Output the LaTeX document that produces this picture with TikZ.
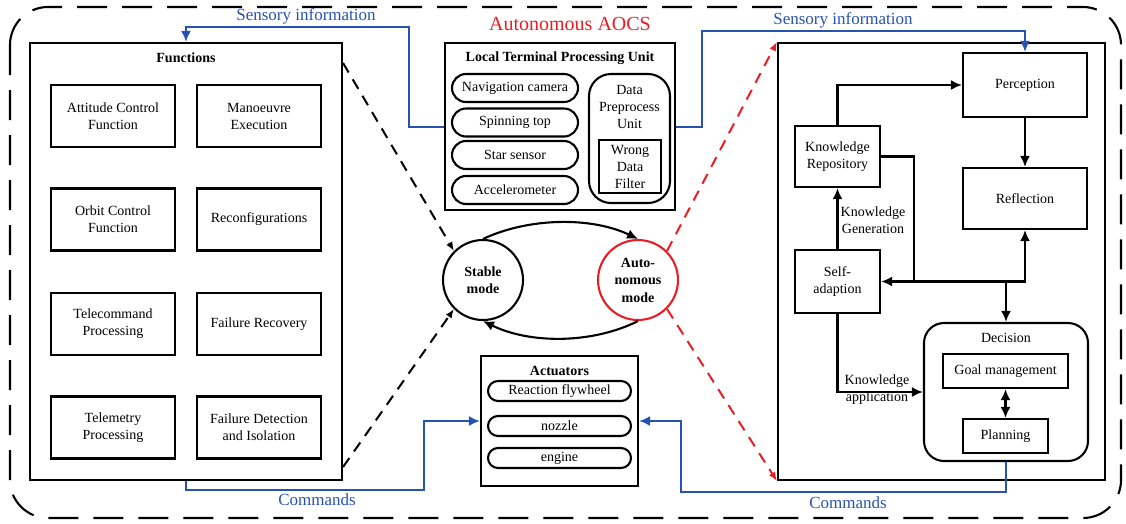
\documentclass[tikz,border=0pt]{standalone}
\usepackage{fontspec}
\setmainfont{Liberation Serif}
\usetikzlibrary{arrows.meta,calc}
\definecolor{sigblue}{RGB}{40,82,176}
\definecolor{autored}{RGB}{232,30,36}
\begin{document}
\begin{tikzpicture}[x=1pt,y=-1pt,
  every node/.style={inner sep=0pt, align=center},
  txt/.style={font=\fontsize{14}{17}\selectfont},
  frame/.style={draw, line width=2.1pt},
  fbox/.style={frame, txt, minimum width=124pt, minimum height=62pt},
  pill/.style={frame, txt, rounded corners=14pt, minimum width=126pt, minimum height=28pt},
  apill/.style={frame, txt, rounded corners=10pt, minimum width=143pt, minimum height=20pt},
  title/.style={font=\bfseries\fontsize{14}{17}\selectfont},
  arr/.style={line width=2.1pt, -{Latex[length=11pt,width=10pt]}},
  darr/.style={line width=2.1pt, {Latex[length=11pt,width=10pt]}-{Latex[length=11pt,width=10pt]}},
  dasharr/.style={line width=2pt, dash pattern=on 11pt off 8pt, -{Latex[length=9pt,width=7pt]}},
  sig/.style={draw=sigblue, line width=2pt},
  sigarr/.style={sig, -{Latex[length=11pt,width=10pt]}},
  lbl/.style={text=sigblue, font=\fontsize{17}{20}\selectfont},
  mode/.style={circle, draw, line width=2.1pt, minimum size=80pt, font=\bfseries\fontsize{14}{17}\selectfont},
]
\useasboundingbox (0,0) rectangle (1126,523);

% outer system boundary
\draw[line width=2.1pt, dash pattern=on 30pt off 15pt, rounded corners=38pt] (10,7) rectangle (1121,518);
\node[text=autored, font=\fontsize{20}{24}\selectfont] (aocs) at (570,24) {Autonomous AOCS};

% functions block
\node[frame, minimum width=312pt, minimum height=437pt] (functions) at (186,261.5) {};
\node[title] (functionsT) at (186,58) {Functions};
\node[fbox] (acf) at (113,116)   {Attitude Control\\Function};
\node[fbox] (me)  at (259,116)   {Manoeuvre\\Execution};
\node[fbox] (ocf) at (113,219.5) {Orbit Control\\Function};
\node[fbox] (rec) at (259,219.5) {Reconfigurations};
\node[fbox] (tcp) at (113,324)   {Telecommand\\Processing};
\node[fbox] (fr)  at (259,324)   {Failure Recovery};
\node[fbox] (tmp) at (113,427.5) {Telemetry\\Processing};
\node[fbox] (fdi) at (259,427.5) {Failure Detection\\and Isolation};

% local terminal processing unit
\node[frame, minimum width=230pt, minimum height=167pt] (ltpu) at (560,126.5) {};
\node[title] (ltpuT) at (560,58) {Local Terminal Processing Unit};
\node[pill] (nav) at (515,88)    {Navigation camera};
\node[pill] (spin) at (515,122.5) {Spinning top};
\node[pill] (star) at (515,155)   {Star sensor};
\node[pill] (acc) at (515,190)   {Accelerometer};
\node[frame, rounded corners=22pt, minimum width=81pt, minimum height=129pt] (dpu) at (629.5,138.5) {};
\node[txt] (dpuT) at (629.5,107) {Data\\Preprocess\\Unit};
\node[draw, line width=2.6pt, txt, minimum width=62pt, minimum height=53pt] (wdf) at (630,166.5) {Wrong\\Data\\Filter};

% actuators
\node[frame, minimum width=157pt, minimum height=130pt] (act) at (559.5,421) {};
\node[title] (actT) at (559.5,371) {Actuators};
\node[apill] (rfw) at (559.5,391) {Reaction flywheel};
\node[apill] (noz) at (559.5,426) {nozzle};
\node[apill] (eng) at (559.5,458) {engine};

% operating modes
\node[mode] (stable) at (483,280) {Stable\\mode};
\node[mode, draw=autored, font=\bfseries\fontsize{14}{17.5}\selectfont] (auto) at (638,280) {Auto-\\nomous\\mode};
\draw[arr] (stable.north) .. controls (530,217) and (592,217) .. (auto.north);
\draw[arr] (auto.south) .. controls (592,344) and (530,344) .. (stable.south);

% mode switching links
\draw[dasharr] (functions.east |- 0,63) -- (stable.135);
\draw[dasharr] (functions.east |- 0,467) -- (stable.225);
\node[frame, minimum width=327pt, minimum height=437pt] (auton) at (941.5,261.5) {};
\draw[dasharr, draw=autored, color=autored] (auto.45) -- (auton.north west);
\draw[dasharr, draw=autored, color=autored] (auto.-45) -- (auton.south west);

% autonomous loop
\node[frame, txt, minimum width=124pt, minimum height=64pt] (perc) at (1025,85) {Perception};
\node[frame, txt, minimum width=124pt, minimum height=61pt] (refl) at (1025,198.5) {Reflection};
\node[frame, txt, minimum width=85pt, minimum height=61pt] (kr) at (837.5,156.5) {Knowledge\\Repository};
\node[frame, txt, minimum width=85pt, minimum height=63pt] (sa) at (837.5,281.5) {Self-\\adaption};
\node[frame, rounded corners=20pt, minimum width=164pt, minimum height=138pt] (dec) at (1006,392) {};
\node[txt] (decT) at (1006,338) {Decision};
\node[frame, txt, minimum width=125pt, minimum height=34pt] (goal) at (1005.5,371) {Goal management};
\node[frame, txt, minimum width=85pt, minimum height=34pt] (plan) at (1005.5,436) {Planning};

\coordinate (j1) at (914,281.5);
\draw[arr] (kr.north) |- (perc.west);
\draw[arr] (perc.south) -- (refl.north);
\draw[arr] (kr.east) -| (j1) -- (sa.east);
\draw[arr] (j1) -| (refl.south);
\draw[arr] (dec.north |- j1) -- (dec.north);
\draw[arr] (sa.north) -- (kr.south);
\draw[arr] (sa.south) |- (dec.west);
\draw[darr] (goal.south) -- (plan.north);
\node[txt] (kgen) at (873,220) {Knowledge\\Generation};
\node[txt] (kapp) at (877,390) {Knowledge\\application};

% sensory information and commands
\draw[sigarr] (ltpu.west) -- (409,126.5) |- (functions.north |- 0,27) -- (functions.north);
\draw[sigarr] (ltpu.east) -- (702,126.5) |- (perc.north |- 0,31) -- (perc.north);
\draw[sigarr] (functions.south) |- (424,490) |- (act.west);
\draw[sigarr] (dec.south) |- (681,492) |- (act.east);
\node[lbl] (sensL) at (306,16) {Sensory information};
\node[lbl] (sensR) at (843,20) {Sensory information};
\node[lbl] (cmdL) at (317,500) {Commands};
\node[lbl] (cmdR) at (848,503) {Commands};
\end{tikzpicture}
\end{document}
